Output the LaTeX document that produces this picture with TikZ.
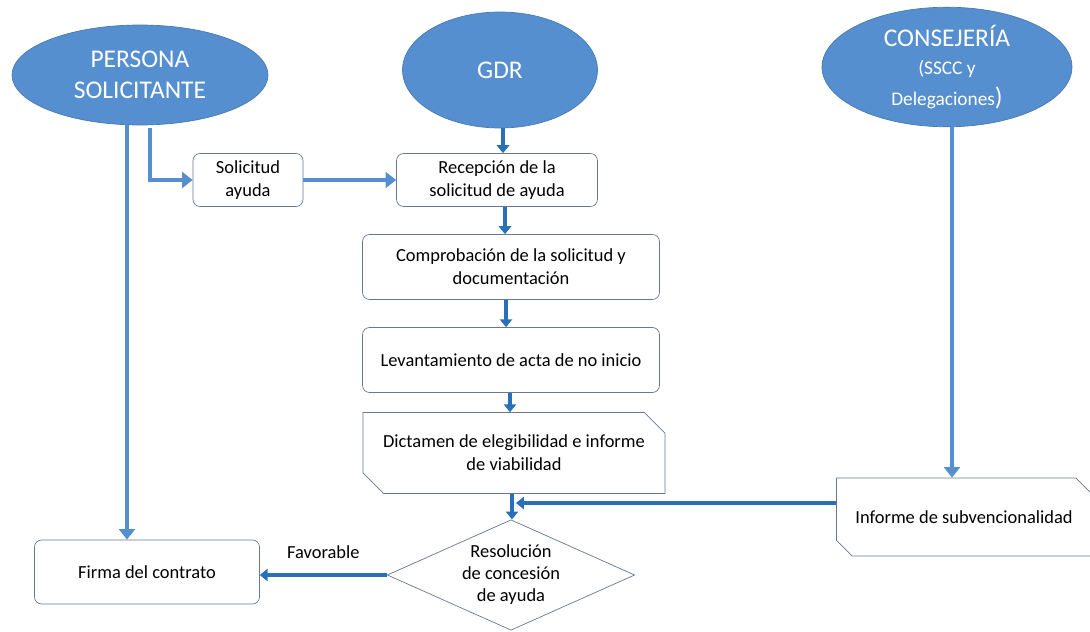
\documentclass[tikz,border=0pt]{standalone}
\usepackage{fontspec}
\setmainfont{Carlito}
\usetikzlibrary{arrows.meta,%
                shapes.geometric,%
                shapes.misc}
\definecolor{azul}{RGB}{86,143,207}
\definecolor{azulosc}{RGB}{40,112,185}
\definecolor{borde}{RGB}{105,120,145}

\begin{document}
\begin{tikzpicture}[x=0.02cm,y=-0.02cm]
  \tikzstyle{actor}=[ellipse,fill=azul,draw=azul!85!black,text=white,align=center,inner sep=0pt,font=\fontsize{14.5}{18}\selectfont]
  \tikzstyle{caja}=[rectangle,rounded corners=4pt,draw=borde,fill=white,align=center,inner sep=2pt,font=\fontsize{10.5}{13}\selectfont]
  \tikzstyle{recorte}=[chamfered rectangle,chamfered rectangle corners={north east,south west},chamfered rectangle xsep=0.3cm,draw=borde,fill=white,align=center,inner sep=2pt,font=\fontsize{10.5}{13}\selectfont]
  \tikzstyle{gruesa}=[draw=azul,line width=2.8pt,-{Triangle[length=6pt,width=9pt]}]
  \tikzstyle{fina}=[draw=azulosc,line width=2.2pt,-{Triangle[length=4.5pt,width=7pt]}]

  \useasboundingbox (0,0) rectangle (1090,632);

  \node[actor,minimum width=5.12cm,minimum height=2cm] (persona) at (140,75) {PERSONA\\SOLICITANTE};
  \node[actor,minimum width=3.9cm,minimum height=2.32cm] (gdr) at (500,70) {GDR};
  \node[actor,minimum width=5cm,minimum height=2.3cm] (conse) at (947,67)
    {CONSEJERÍA\\[-2pt]{\fontsize{11}{14}\selectfont(SSCC y}\\{\fontsize{11}{14}\selectfont Delegaciones})};

  \node[caja,minimum width=2.2cm,minimum height=1.06cm] (soli) at (248,180) {Solicitud\\ayuda};
  \node[caja,minimum width=4.02cm,minimum height=1.06cm] (recep) at (497,180) {Recepción de la\\solicitud de ayuda};
  \node[caja,minimum width=5.94cm,minimum height=1.3cm] (compro) at (511,267) {Comprobación de la solicitud y\\documentación};
  \node[caja,minimum width=5.94cm,minimum height=1.3cm] (levanta) at (511,360) {Levantamiento de acta de no inicio};
  \node[recorte,minimum width=6.04cm,minimum height=1.62cm] (dicta) at (514,453) {Dictamen de elegibilidad e informe\\de viabilidad};
  \node[recorte,minimum width=5.1cm,minimum height=1.56cm] (infor) at (964,517) {Informe de subvencionalidad};
  \node[diamond,draw=borde,fill=white,shape aspect=2.24,inner xsep=0pt,inner ysep=2pt,align=center,font=\fontsize{10.5}{12.5}\selectfont] (resol) at (511,575) {Resolución\\de concesión\\de ayuda};
  \node[caja,minimum width=4.5cm,minimum height=1.28cm] (firma) at (147,572) {Firma del contrato};

  % persona solicitante
  \draw[gruesa] ([xshift=-0.26cm]persona.south) -- ([xshift=-0.26cm]persona.south |- firma.north);
  \draw[gruesa] ([xshift=0.2cm,yshift=-0.06cm]persona.south) |- (soli.west);
  \draw[gruesa] (soli.east) -- (recep.west);

  % GDR
  \draw[fina] ([xshift=0.06cm]gdr.south) -- ([xshift=0.06cm]gdr.south |- recep.north);
  \draw[fina] ([xshift=0.16cm]recep.south) -- ([xshift=0.16cm]recep.south |- compro.north);
  \draw[fina] ([xshift=-0.1cm]compro.south) -- ([xshift=-0.1cm]compro.south |- levanta.north);
  \draw[fina] ([xshift=-0.02cm]levanta.south) -- ([xshift=-0.02cm]levanta.south |- dicta.north);
  \draw[fina] ([xshift=-0.04cm]dicta.south) -- ([xshift=-0.04cm]dicta.south |- resol.north);

  % consejeria
  \draw[gruesa,line width=2.2pt] ([xshift=0.1cm]conse.south) -- ([xshift=0.1cm]conse.south |- infor.north);
  \draw[fina] ([yshift=0.28cm]infor.west) -- ([yshift=0.28cm,xshift=0.04cm]infor.west -| dicta.south);

  \draw[fina] (resol.west) -- node[above=5pt,font=\fontsize{10.5}{13}\selectfont,text=black] {Favorable} (resol.west -| firma.east);
\end{tikzpicture}
\end{document}
